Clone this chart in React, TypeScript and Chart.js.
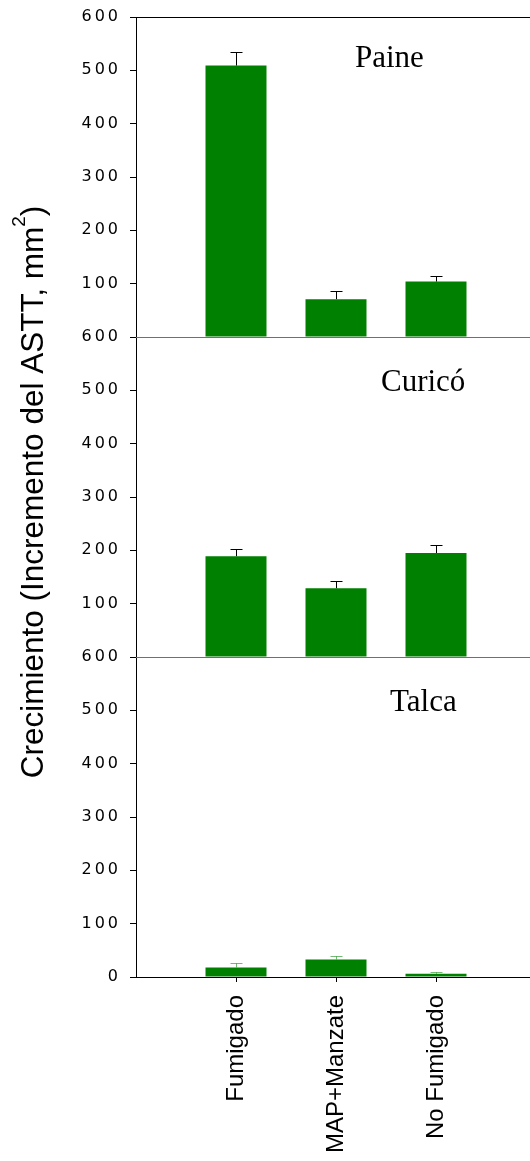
import React, { useEffect, useRef } from 'react';
import { Chart, registerables } from 'chart.js';

Chart.register(...registerables);

// ---- data ----
const categories = ['Fumigado', 'MAP+Manzate', 'No Fumigado'];
const panelNames = ['Paine', 'Curicó', 'Talca'];
const paineValues = [509, 71, 104];
const paineErrors = [26, 16, 11];
const curicoValues = [189, 129, 195];
const curicoErrors = [13, 13, 15];
const talcaValues = [18, 33, 6];
const talcaErrors = [9, 6, 3];
const yTickValues = [0, 100, 200, 300, 400, 500, 600];
const yTitle = 'Crecimiento (Incremento del ASTT, mm';
const yTitleSup = '2';

// ---- styling / placement ----
const BAR_COLOR = '#008000';
const SANS = '"Liberation Sans", Arial, sans-serif';
const SERIF = '"Liberation Serif", "Times New Roman", serif';
const labelAnchors = [
  { x: 2.19, y: 506 },
  { x: 2.45, y: 499 },
  { x: 2.54, y: 498 },
];

const panels = [
  { axis: 'y1', values: paineValues, errors: paineErrors, errColor: '#000000', weight: 3, hideZero: true },
  { axis: 'y2', values: curicoValues, errors: curicoErrors, errColor: '#000000', weight: 2, hideZero: true },
  { axis: 'y3', values: talcaValues, errors: talcaErrors, errColor: 'rgba(0,128,0,0.55)', weight: 1, hideZero: false },
];

const spacingPlugin = {
  id: 'tickSpacing',
  beforeDraw(chart: any) {
    (chart.ctx as any).letterSpacing = '3px';
  },
  beforeDatasetsDraw(chart: any) {
    (chart.ctx as any).letterSpacing = '0px';
  },
};

function hLine(ctx: any, x1: number, x2: number, y: number, color: string) {
  const yy = Math.round(y) + 0.5;
  ctx.strokeStyle = color;
  ctx.beginPath();
  ctx.moveTo(x1, yy);
  ctx.lineTo(x2, yy);
  ctx.stroke();
}

const framePlugin = {
  id: 'frame',
  afterDatasetsDraw(chart: any) {
    const ctx = chart.ctx;
    const a = chart.chartArea;
    ctx.save();
    ctx.lineWidth = 1;
    hLine(ctx, a.left, a.right, chart.scales.y1.getPixelForValue(600), '#000');
    hLine(ctx, a.left, a.right, chart.scales.y1.getPixelForValue(0), '#707070');
    hLine(ctx, a.left, a.right, chart.scales.y2.getPixelForValue(0), '#707070');
    hLine(ctx, a.left, a.right, chart.scales.y3.getPixelForValue(0), '#000');
    ctx.restore();
  },
};

const errorBarPlugin = {
  id: 'errorBars',
  afterDatasetsDraw(chart: any) {
    const ctx = chart.ctx;
    const xs = chart.scales.x;
    panels.forEach((p) => {
      const ys = chart.scales[p.axis];
      ctx.save();
      ctx.strokeStyle = p.errColor;
      ctx.lineWidth = 1;
      p.values.forEach((v, i) => {
        const x = Math.round(xs.getPixelForValue(i + 1)) + 0.5;
        const yTop = ys.getPixelForValue(v);
        const yEnd = Math.round(ys.getPixelForValue(v + p.errors[i])) + 0.5;
        ctx.beginPath();
        ctx.moveTo(x, yTop);
        ctx.lineTo(x, yEnd);
        ctx.moveTo(x - 6, yEnd);
        ctx.lineTo(x + 6, yEnd);
        ctx.stroke();
      });
      ctx.restore();
    });
  },
};

const textPlugin = {
  id: 'panelText',
  afterDraw(chart: any) {
    const ctx = chart.ctx;
    const xs = chart.scales.x;
    ctx.save();
    (ctx as any).letterSpacing = '0px';
    ctx.fillStyle = '#000';
    ctx.textAlign = 'left';
    ctx.textBaseline = 'alphabetic';
    ctx.font = `31px ${SERIF}`;
    panels.forEach((p, i) => {
      const ys = chart.scales[p.axis];
      ctx.fillText(panelNames[i], xs.getPixelForValue(labelAnchors[i].x), ys.getPixelForValue(labelAnchors[i].y));
    });
    // y axis title
    const area = chart.chartArea;
    const cy = (area.top + area.bottom) / 2 - 5;
    ctx.font = `31.5px ${SANS}`;
    const w1 = ctx.measureText(yTitle).width;
    const w3 = ctx.measureText(')').width;
    ctx.font = `19px ${SANS}`;
    const w2 = ctx.measureText(yTitleSup).width;
    const total = w1 + w2 + w3;
    ctx.translate(43, cy);
    ctx.rotate(-Math.PI / 2);
    ctx.font = `31.5px ${SANS}`;
    ctx.fillText(yTitle, -total / 2, 0);
    ctx.font = `19px ${SANS}`;
    ctx.fillText(yTitleSup, -total / 2 + w1, -18);
    ctx.font = `31.5px ${SANS}`;
    ctx.fillText(')', -total / 2 + w1 + w2, 0);
    ctx.restore();
  },
};

function makeYScale(p: any) {
  return {
    type: 'linear',
    position: 'left',
    stack: 'panels',
    stackWeight: 1,
    weight: p.weight,
    min: 0,
    max: 600,
    afterBuildTicks: (s: any) => {
      s.ticks = yTickValues.map((v) => ({ value: v }));
    },
    afterFit: (s: any) => {
      s.width = 136;
    },
    ticks: {
      color: '#000',
      padding: 9,
      font: { family: '"DejaVu Sans", sans-serif', size: 16, lineHeight: 1 },
      callback: (v: any) => (p.hideZero && v === 0 ? '' : String(v)),
    },
    grid: {
      display: true,
      drawOnChartArea: false,
      drawTicks: true,
      tickLength: 6,
      tickColor: '#000',
      color: '#000',
      lineWidth: 1,
    },
    border: { display: true, color: '#000', width: 1 },
  };
}

export default function App() {
  const canvasRef = useRef<HTMLCanvasElement | null>(null);

  useEffect(() => {
    if (!canvasRef.current) return;
    const datasets = panels.map((p) => ({
      data: p.values.map((v, i) => ({ x: i + 1, y: v })),
      yAxisID: p.axis,
      backgroundColor: BAR_COLOR,
      borderWidth: 0,
      grouped: false,
      barPercentage: 0.61,
      categoryPercentage: 1,
    }));
    const chart = new Chart(canvasRef.current, {
      type: 'bar',
      data: { datasets } as any,
      options: {
        animation: false,
        responsive: true,
        maintainAspectRatio: false,
        layout: { padding: { top: 16, right: 0, bottom: 0, left: 0 } },
        plugins: { legend: { display: false }, tooltip: { enabled: false } },
        scales: {
          x: {
            type: 'linear',
            position: 'bottom',
            min: 0,
            max: 3.94,
            offset: false,
            afterBuildTicks: (s: any) => {
              s.ticks = categories.map((_, i) => ({ value: i + 1 }));
            },
            afterFit: (s: any) => {
              s.height = 184;
            },
            ticks: {
              autoSkip: false,
              minRotation: 90,
              maxRotation: 90,
              padding: 13,
              color: '#000',
              z: 1,
              font: { family: SANS, size: 24 },
              callback: (v: any) => categories[Number(v) - 1] ?? '',
            },
            grid: { display: true, drawOnChartArea: false, offset: false, tickLength: 5, tickColor: '#000', color: '#000' },
            border: { display: true, color: '#000', width: 1 },
          },
          y1: makeYScale(panels[0]),
          y2: makeYScale(panels[1]),
          y3: makeYScale(panels[2]),
        } as any,
      },
      plugins: [spacingPlugin, framePlugin, errorBarPlugin, textPlugin],
    });
    return () => chart.destroy();
  }, []);

  return (
    <div style={{ position: 'absolute', left: 0, top: 0, width: 530, height: 1161 }}>
      <canvas ref={canvasRef} />
    </div>
  );
}
